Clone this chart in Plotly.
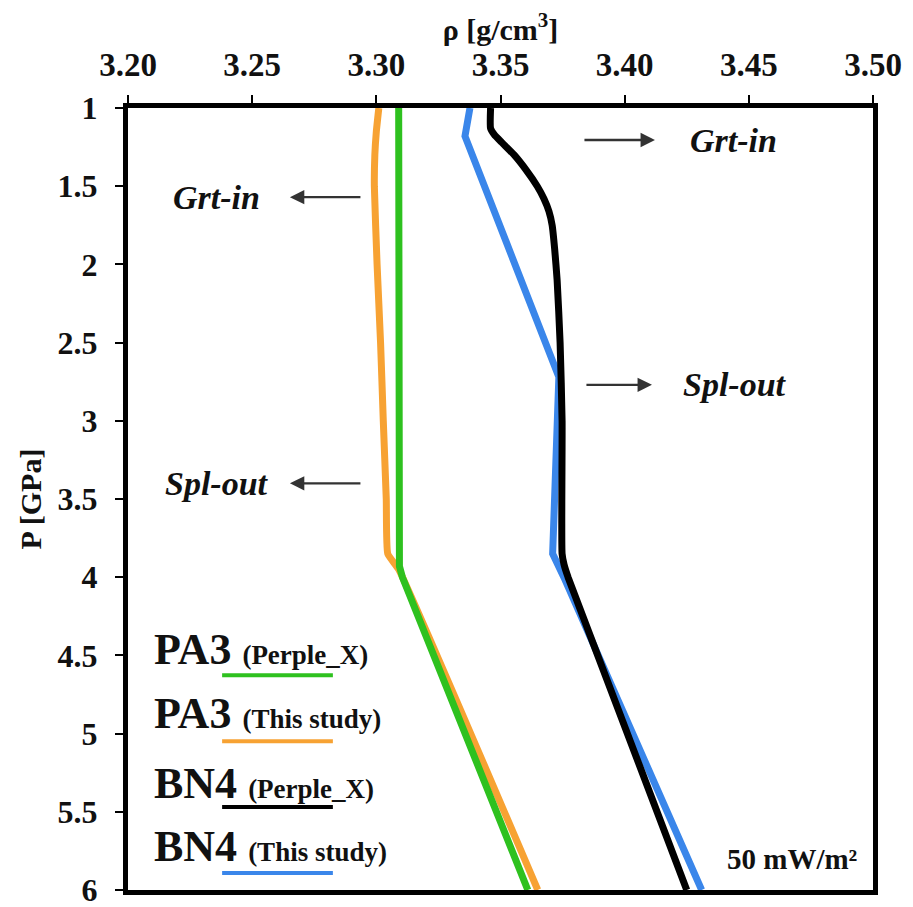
import plotly.graph_objects as go

# ---- data ----
p_pa3_px = [1.0, 2.0, 3.0, 3.85, 3.93, 4.0, 6.0]
rho_pa3_px = [3.309, 3.309, 3.309, 3.3088, 3.3093, 3.3105, 3.361]

p_pa3_ts = [1.0, 1.15, 1.3, 1.5, 2.0, 2.5, 3.0, 3.5, 3.85, 3.95, 6.0]
rho_pa3_ts = [3.301, 3.300, 3.2994, 3.2992, 3.3003, 3.3017, 3.3028, 3.3040, 3.3046, 3.309, 3.365]

p_bn4_ts = [1.0, 1.18, 2.72, 3.85, 4.0, 6.0]
rho_bn4_ts = [3.3377, 3.3357, 3.3735, 3.371, 3.3755, 3.431]

p_bn4_px = [1.0, 1.13, 1.17, 1.22, 1.3, 1.4, 1.5, 1.58, 1.66, 1.75, 1.9, 2.1, 2.5, 3.0,
            3.85, 3.92, 4.0, 6.0]
rho_bn4_px = [3.346, 3.346, 3.3475, 3.3505, 3.3555, 3.3605, 3.3648, 3.3675, 3.3695,
              3.3708, 3.3718, 3.3728, 3.374, 3.3748, 3.3748, 3.3756, 3.3772, 3.425]

x_ticks = [3.20, 3.25, 3.30, 3.35, 3.40, 3.45, 3.50]
x_ticklabels = ["3.20", "3.25", "3.30", "3.35", "3.40", "3.45", "3.50"]
y_ticks = [1, 1.5, 2, 2.5, 3, 3.5, 4, 4.5, 5, 5.5, 6]
y_ticklabels = ["1", "1.5", "2", "2.5", "3", "3.5", "4", "4.5", "5", "5.5", "6"]

legend_main = ["PA3", "PA3", "BN4", "BN4"]
legend_sub = ["(Perple_X)", "(This study)", "(Perple_X)", "(This study)"]

GREEN = "#2ec11f"
ORANGE = "#f7a233"
BLACK = "#000000"
BLUE = "#3a86ea"
legend_colors = [GREEN, ORANGE, BLACK, BLUE]

SERIF = "Liberation Serif"
LW = 7

fig = go.Figure()
fig.add_trace(go.Scatter(x=rho_pa3_ts, y=p_pa3_ts, mode="lines",
                         line=dict(color=ORANGE, width=LW, shape="spline", smoothing=0.4),
                         showlegend=False))
fig.add_trace(go.Scatter(x=rho_pa3_px, y=p_pa3_px, mode="lines",
                         line=dict(color=GREEN, width=LW), showlegend=False))
fig.add_trace(go.Scatter(x=rho_bn4_ts, y=p_bn4_ts, mode="lines",
                         line=dict(color=BLUE, width=LW), showlegend=False))
fig.add_trace(go.Scatter(x=rho_bn4_px, y=p_bn4_px, mode="lines",
                         line=dict(color=BLACK, width=LW, shape="spline", smoothing=0.5),
                         showlegend=False))

annotations = []
# phase boundary labels with arrows: (text, text x, y, arrow head x, arrow tail x)
arrow_specs = [
    ("Grt-in", 3.2355, 1.57, 3.2652, 3.2942),
    ("Spl-out", 3.2360, 3.40, 3.2652, 3.2942),
    ("Grt-in", 3.4440, 1.205, 3.4122, 3.3832),
    ("Spl-out", 3.4445, 2.77, 3.4110, 3.3840),
]
for txt, tx, ty, hx, sx in arrow_specs:
    annotations.append(dict(x=tx, y=ty, xref="x", yref="y",
                            text=f"<b><i>{txt}</i></b>", showarrow=False,
                            font=dict(family=SERIF, size=34, color="#111")))
    annotations.append(dict(x=hx, y=ty, ax=sx, ay=ty, xref="x", yref="y",
                            axref="x", ayref="y", text="", showarrow=True,
                            arrowhead=2, arrowsize=1.2, arrowwidth=2.4,
                            arrowcolor="#333"))

# custom legend
legend_y_text = [4.46, 4.87, 5.32, 5.72]
legend_y_line = [4.627, 5.049, 5.470, 5.891]
for main, sub, col, yt, yl in zip(legend_main, legend_sub, legend_colors,
                                  legend_y_text, legend_y_line):
    annotations.append(dict(
        x=3.2098, y=yt, xref="x", yref="y", xanchor="left", yanchor="middle",
        text=f"<b>{main}</b> <b><span style='font-size:27px'>{sub}</span></b>",
        showarrow=False, font=dict(family=SERIF, size=44, color="#111")))
    fig.add_shape(type="line", x0=3.2379, x1=3.2825, y0=yl, y1=yl,
                  xref="x", yref="y", line=dict(color=col, width=4))

annotations.append(dict(x=3.4948, y=5.80, xref="x", yref="y", xanchor="right",
                        text="<b>50 mW/m²</b>", showarrow=False,
                        font=dict(family=SERIF, size=29, color="#111")))

# the page body adds an 8px offset, so the figure is sized to fit the window
fig.update_layout(
    annotations=annotations,
    width=905, height=899,
    margin=dict(l=120, r=40, t=100, b=17),
    paper_bgcolor="white", plot_bgcolor="white",
    font=dict(family=SERIF, color="#111"),
    xaxis=dict(
        range=[3.20, 3.50], side="top", tickvals=x_ticks, ticktext=x_ticklabels,
        tickfont=dict(family=SERIF, size=33, weight="bold", color="#111"),
        ticks="outside", ticklen=8, tickwidth=2, tickcolor="black",
        ticklabelstandoff=6, ticklabeloverflow="allow",
        showline=True, linewidth=5, linecolor="black", mirror=True,
        showgrid=False, zeroline=False, automargin=False,
        title=dict(text="<b>ρ [g/cm<sup>3</sup>]</b>", font=dict(family=SERIF, size=30),
                   standoff=2),
    ),
    yaxis=dict(
        range=[6, 1], tickvals=y_ticks, ticktext=y_ticklabels,
        tickfont=dict(family=SERIF, size=32, weight="bold", color="#111"),
        ticks="outside", ticklen=8, tickwidth=2, tickcolor="black",
        ticklabelstandoff=11, ticklabeloverflow="allow",
        showline=True, linewidth=5, linecolor="black", mirror=True,
        showgrid=False, zeroline=False, automargin=False,
        title=dict(text="<b>P [GPa]</b>", font=dict(family=SERIF, size=30),
                   standoff=9),
    ),
)

fig.write_html("out.html")
